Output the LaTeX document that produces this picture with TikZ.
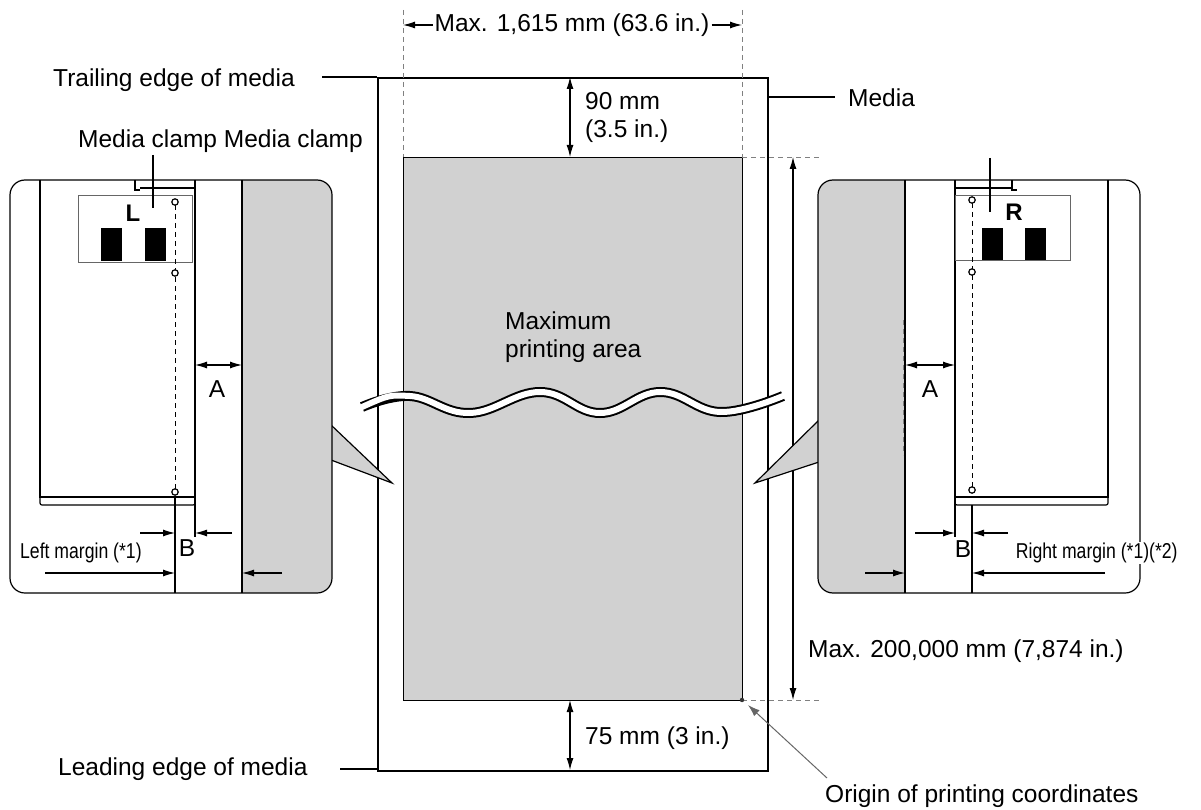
\documentclass[tikz,border=0pt]{standalone}
\usepackage{fontspec}
\setmainfont{Liberation Sans}
\usetikzlibrary{arrows.meta}
\begin{document}
\begin{tikzpicture}[x=1pt,y=-1pt,
  lbl/.style={font=\fontsize{24.5}{28}\selectfont,inner sep=0pt},
  sm/.style={font=\fontsize{21.5}{24}\selectfont,inner sep=0pt,xscale=0.82},
  dim/.style={line width=1.1pt,{Latex[length=12pt,width=7pt]}-{Latex[length=12pt,width=7pt]}},
  arr/.style={line width=1.1pt,-{Latex[length=12pt,width=7pt]}},
  thin/.style={line width=1.2pt},
  dsh/.style={line width=0.9pt,dash pattern=on 5pt off 4pt,gray},
  edge/.style={line width=2pt},
  grayfill/.style={fill=black!18}]
\useasboundingbox (0,0) rectangle (1201,810);
% ---------- central media ----------
\node[edge,draw,fill=white,minimum width=390,minimum height=693,inner sep=0pt,anchor=north west] (media) at (377,77) {};
\node[grayfill,draw,thin,minimum width=339,minimum height=543,inner sep=0pt,anchor=north west] (area) at (403,157) {};
% wave break
\draw[line width=10pt] plot[smooth,tension=0.7] coordinates {(362,407)(410,396)(470,413)(540,392)(600,413)(660,392)(720,412)(783,396)};
\draw[line width=6pt,white,shorten <=-1pt,shorten >=-1pt] plot[smooth,tension=0.7] coordinates {(362,407)(410,396)(470,413)(540,392)(600,413)(660,392)(720,412)(783,396)};
\node[lbl,align=left,anchor=north west] (maxarea) at (505,312) {Maximum\\printing area};
% top dimension
\draw[dsh] (403,10) -- (403,157);
\draw[dsh] (742,10) -- (742,157);
\node[lbl] (wtxt) at (572,25) {Max. 1,615 mm (63.6 in.)};
\draw[arr] (wtxt.west) ++(-2,0) -- (403,25);
\draw[arr] (wtxt.east) ++(2,0) -- (742,25);
% 90 mm
\coordinate (t1) at (570,77); \coordinate (t2) at (570,157);
\draw[dim] (t1) -- (t2);
\node[lbl,align=left,anchor=west] (t90) at (585,117) {90 mm\\(3.5 in.)};
% 75 mm
\coordinate (b1) at (570,700); \coordinate (b2) at (570,770);
\draw[dim] (b1) -- (b2);
\node[lbl,anchor=west] (t75) at (585,738) {75 mm (3 in.)};
% right dimension
\draw[dsh] (742,157) -- (822,157);
\draw[dsh] (742,700) -- (822,700);
\coordinate (r1) at (793,157); \coordinate (r2) at (793,700);
\draw[dim] (r1) -- (r2);
\node[lbl,anchor=west] (maxlen) at (808,651) {Max. 200,000 mm (7,874 in.)};
% origin
\node[lbl,anchor=west] (origin) at (825,796) {Origin of printing coordinates};
\coordinate (o1) at (827,778);
\draw[line width=1pt,black!60,-{Latex[length=12pt,width=8pt]}] (o1) -- (748,705);
\fill[black!80] (742,700) circle (2.2);
% side labels
\node[lbl,anchor=west] (trail) at (53,80) {Trailing edge of media};
\draw[thin] (322,77) -- (377,77);
\node[lbl,anchor=west] (medlab) at (848,98) {Media};
\draw[thin] (768,97) -- (835,97);
\node[lbl,anchor=west] (lead) at (58,769) {Leading edge of media};
\draw[thin] (340,769) -- (377,769);
\node[lbl,anchor=west] (mclamp) at (78,141) {Media clamp Media clamp};
% ---------- left callout ----------
\begin{scope}
\fill[black!18] (330,425) -- (392,483) -- (330,460) -- cycle;
\draw[thin] (331,425) -- (392,483) -- (331,460);
\begin{scope}
\clip[rounded corners=15] (10,180) rectangle (332,593);
\fill[white] (10,180) rectangle (332,593);
\fill[black!18] (242,180) rectangle (332,593);
\end{scope}
\draw[thin,rounded corners=15] (10,180) rectangle (332,593);
\draw[thin] (40,180) -- (40,497) -- (195,497);
\draw[thin,rounded corners=2] (40,495) -- (40,505) -- (195,505) -- (195,495);
\draw[thin] (195,180) -- (195,537);
\draw[thin] (242,180) -- (242,593);
\draw[thin] (140,188) -- (195,188);
\draw[thin] (135,180) -- (135,190) -- (140,190);
\node[draw=black!60,line width=0.8pt,minimum width=114,minimum height=67,inner sep=0pt,anchor=north west,fill=white] (lbox) at (78,195) {};
\fill (101,228) rectangle (122,261);
\fill (145,228) rectangle (166,261);
\node[font=\bfseries\fontsize{24}{26}\selectfont,inner sep=0pt] (Ltxt) at (133,213) {L};
\draw[thin] (153,155) -- (153,208);
\draw[dsh,black] (175,205) -- (175,489);
\draw[line width=1.6pt] (175,497) -- (175,593);
\foreach \yy in {202,273,492} \draw[thin,fill=white] (175,\yy) circle (3.2);
\draw[dim] (195,365) -- (242,365);
\node[lbl] (LA) at (217,389) {A};
\draw[arr] (140,533) -- (175,533);
\draw[arr] (232,533) -- (195,533);
\node[lbl] (LB) at (187,548) {B};
\node[sm,anchor=west] (lm) at (20,553) {Left margin (*1)};
\draw[arr] (45,573) -- (175,573);
\draw[arr] (282,573) -- (242,573);
\end{scope}
% ---------- right callout ----------
\begin{scope}
\fill[black!18] (820,420) -- (755,483) -- (820,462) -- cycle;
\draw[thin] (819,420) -- (755,483) -- (819,462);
\begin{scope}
\clip[rounded corners=15] (818,180) rectangle (1140,593);
\fill[white] (818,180) rectangle (1140,593);
\fill[black!18] (818,180) rectangle (905,593);
\end{scope}
\draw[thin,rounded corners=15] (818,180) rectangle (1140,593);
\draw[dsh,black!50] (903,320) -- (903,455);
\draw[thin] (905,180) -- (905,593);
\draw[thin] (1108,180) -- (1108,497) -- (955,497);
\draw[thin,rounded corners=2] (1108,495) -- (1108,505) -- (955,505) -- (955,495);
\draw[thin] (955,180) -- (955,537);
\draw[thin] (955,188) -- (1012,188);
\draw[thin] (1012,180) -- (1012,190) -- (1017,190);
\node[draw=black!60,line width=0.8pt,minimum width=115,minimum height=65,inner sep=0pt,anchor=north west,fill=white] (rbox) at (955,195) {};
\fill (982,228) rectangle (1003,260);
\fill (1025,228) rectangle (1046,260);
\node[font=\bfseries\fontsize{24}{26}\selectfont,inner sep=0pt] (Rtxt) at (1014,212) {R};
\draw[thin] (990,158) -- (990,212);
\draw[dsh,black] (972,203) -- (972,487);
\draw[line width=1.6pt] (972,505) -- (972,593);
\foreach \yy in {200,272,490} \draw[thin,fill=white] (972,\yy) circle (3.2);
\draw[dim] (905,365) -- (955,365);
\node[lbl] (RA) at (930,389) {A};
\draw[arr] (915,533) -- (955,533);
\draw[arr] (1008,533) -- (972,533);
\node[lbl] (RB) at (963,549) {B};
\node[sm,anchor=west,fill=white,inner sep=1pt] (rm) at (1015,553) {Right margin (*1)(*2)};
\draw[arr] (865,573) -- (905,573);
\draw[arr] (1105,573) -- (972,573);
\end{scope}
\end{tikzpicture}
\end{document}
